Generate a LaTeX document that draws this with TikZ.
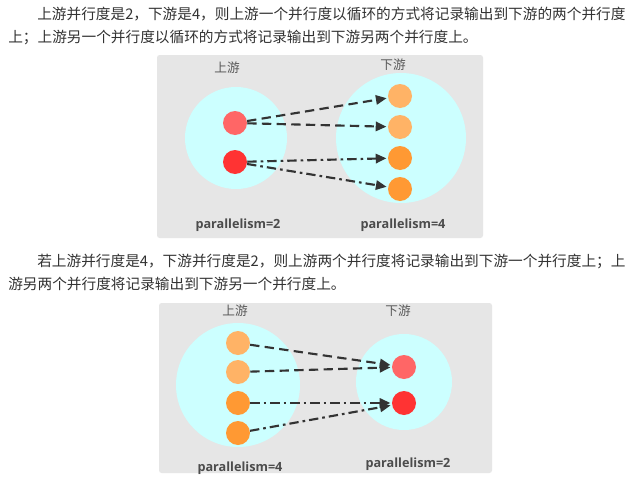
\documentclass[tikz,border=0pt]{standalone}
\usepackage{fontspec}
\setsansfont{Open Sans}
\newfontfamily\cjk{Noto Sans CJK SC}
\usetikzlibrary{arrows.meta}
\definecolor{boxgray}{HTML}{E6E6E6}
\definecolor{poolcyan}{HTML}{CCFFFF}
\definecolor{redlight}{HTML}{FF6666}
\definecolor{redfull}{HTML}{FF3333}
\definecolor{orangelight}{HTML}{FFB366}
\definecolor{orangefull}{HTML}{FF9933}
\definecolor{inkgray}{HTML}{333333}

\begin{document}
\begin{tikzpicture}[x=0.75pt, y=-0.75pt]
	\tikzstyle{boxStyle} = [fill=boxgray, rounded corners=2pt]
	\tikzstyle{poolStyle} = [fill=poolcyan]
	\tikzstyle{taskStyle} = [shape=circle, minimum size=18pt, inner sep=0pt]
	\tikzstyle{textStyle} = [anchor=west, inner sep=0pt, text=inkgray, font=\cjk\fontsize{11}{13}\selectfont]
	\tikzstyle{sideStyle} = [inner sep=0pt, text=black!65, font=\cjk\fontsize{9.5}{11}\selectfont]
	\tikzstyle{parStyle} = [inner sep=0pt, text=black!70, font=\sffamily\bfseries\fontsize{9.5}{11}\selectfont]
	\tikzstyle{flowStyle} = [line width=1.6pt, draw=inkgray, -{Triangle[length=8pt, width=7pt]}, shorten >=1pt]
	\tikzstyle{dashStyle} = [flowStyle, dash pattern=on 7pt off 4pt]
	\tikzstyle{dotStyle} = [flowStyle, dash pattern=on 7pt off 3pt on 2pt off 3pt]
	\useasboundingbox[fill=white] (0,0) rectangle (640,482);
	% text above the first picture
	\node[textStyle] (t0) at (37,14) {上游并行度是2，下游是4，则上游一个并行度以循环的方式将记录输出到下游的两个并行度};
	\node[textStyle] (t1) at (8,37) {上；上游另一个并行度以循环的方式将记录输出到下游另两个并行度上。};
	% first picture: 2 -> 4
	\fill[boxStyle] (157,55) rectangle (483,238);
	\fill[poolStyle] (236,138) circle [radius=38.25pt];
	\fill[poolStyle] (401,138) circle [radius=48.75pt];
	\node[sideStyle] (ua) at (227,68) {上游};
	\node[sideStyle] (da) at (393,65) {下游};
	\node[taskStyle, fill=redlight] (ua0) at (235,123) {};
	\node[taskStyle, fill=redfull] (ua1) at (235,162) {};
	\node[taskStyle, fill=orangelight] (da0) at (400,96) {};
	\node[taskStyle, fill=orangelight] (da1) at (400,127) {};
	\node[taskStyle, fill=orangefull] (da2) at (400,158) {};
	\node[taskStyle, fill=orangefull] (da3) at (400,189) {};
	\node[parStyle] (pa0) at (238,225) {parallelism=2};
	\node[parStyle] (pa1) at (403,225) {parallelism=4};
	\draw[dashStyle] (ua0) -- (da0);
	\draw[dashStyle] (ua0) -- (da1);
	\draw[dotStyle] (ua1) -- (da2);
	\draw[dotStyle] (ua1) -- (da3);
	% text above the second picture
	\node[textStyle] (t2) at (37,261) {若上游并行度是4，下游并行度是2，则上游两个并行度将记录输出到下游一个并行度上；上};
	\node[textStyle] (t3) at (8,284) {游另两个并行度将记录输出到下游另一个并行度上。};
	% second picture: 4 -> 2
	\fill[boxStyle] (159,303) rectangle (492,473);
	\fill[poolStyle] (238,385) circle [radius=46.5pt];
	\fill[poolStyle] (404,382) circle [radius=36pt];
	\node[sideStyle] (ub) at (235,311) {上游};
	\node[sideStyle] (db) at (398,311) {下游};
	\node[taskStyle, fill=orangelight] (ub0) at (238,343) {};
	\node[taskStyle, fill=orangelight] (ub1) at (238,372) {};
	\node[taskStyle, fill=orangefull] (ub2) at (238,403) {};
	\node[taskStyle, fill=orangefull] (ub3) at (238,433) {};
	\node[taskStyle, fill=redlight] (db0) at (404,367) {};
	\node[taskStyle, fill=redfull] (db1) at (404,403) {};
	\node[parStyle] (pb0) at (240,468) {parallelism=4};
	\node[parStyle] (pb1) at (408,464) {parallelism=2};
	\draw[dashStyle] (ub0) -- (db0);
	\draw[dashStyle] (ub1) -- (db0);
	\draw[dotStyle] (ub2) -- (db1);
	\draw[dotStyle] (ub3) -- (db1);
\end{tikzpicture}
\end{document}
